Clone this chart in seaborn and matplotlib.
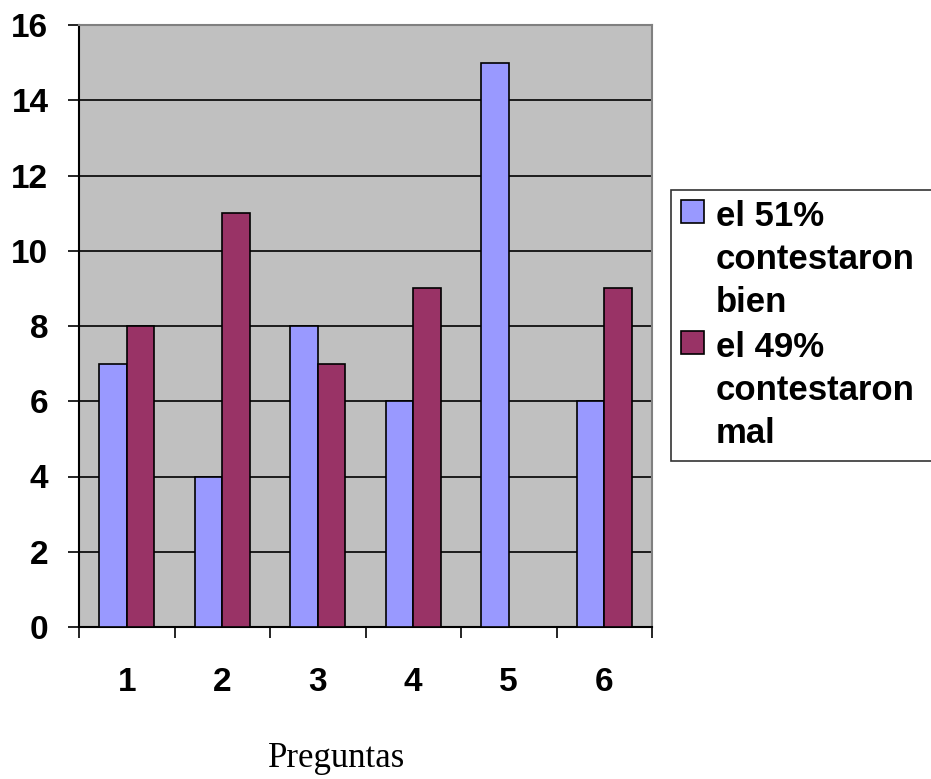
import matplotlib
matplotlib.use("Agg")
import matplotlib.pyplot as plt
import seaborn as sns
import pandas as pd

preguntas = ["1", "2", "3", "4", "5", "6"]
bien = [7, 4, 8, 6, 15, 6]
mal = [8, 11, 7, 9, 0, 9]
series_names = ["el 51%\ncontestaron\nbien", "el 49%\ncontestaron\nmal"]
colors = ["#9999FF", "#993366"]
yticks = [0, 2, 4, 6, 8, 10, 12, 14, 16]

df = pd.DataFrame({
    "Pregunta": preguntas * 2,
    "Valor": bien + mal,
    "Serie": [series_names[0]] * len(bien) + [series_names[1]] * len(mal),
})

sns.set_style("white")
plt.rcParams["font.family"] = ["Liberation Sans", "DejaVu Sans"]
plt.rcParams["text.color"] = "black"
plt.rcParams["axes.labelcolor"] = "black"
plt.rcParams["xtick.color"] = "black"
plt.rcParams["ytick.color"] = "black"

fig = plt.figure(figsize=(9.31, 7.79), dpi=100)
ax = fig.add_axes([79 / 931, 1 - 627 / 779, (652 - 79) / 931, (627 - 25) / 779])
ax.set_facecolor("#C0C0C0")

sns.barplot(data=df, x="Pregunta", y="Valor", hue="Serie", order=preguntas,
            hue_order=series_names, palette=colors, width=0.58,
            edgecolor="black", linewidth=1.2, saturation=1, ax=ax, zorder=3)

ax.set_xlim(-0.5, len(preguntas) - 0.5)
ax.set_ylim(0, 16)
ax.set_yticks(yticks)
ax.set_yticklabels([str(t) for t in yticks], fontsize=24, fontweight="bold")
for t in yticks[1:-1]:
    ax.axhline(t, color="black", linewidth=1.2, zorder=1)

ax.set_xticks(range(len(preguntas)))
ax.set_xticklabels(preguntas, fontsize=24, fontweight="bold")
ax.tick_params(axis="x", which="major", length=0, pad=29)
ax.set_xticks([i - 0.5 for i in range(len(preguntas) + 1)], minor=True)
ax.tick_params(axis="x", which="minor", length=8, width=1.2, direction="out", color="black", bottom=True)
ax.tick_params(axis="y", length=8, width=1.2, direction="out", color="black", pad=14, left=True)

for side in ["left", "bottom"]:
    ax.spines[side].set_color("black")
    ax.spines[side].set_linewidth(1.5)
for side in ["top", "right"]:
    ax.spines[side].set_color("#808080")
    ax.spines[side].set_linewidth(1.5)

ax.set_ylabel("")
ax.set_xlabel("Preguntas", fontsize=25, family=["Liberation Serif", "DejaVu Serif"])
ax.xaxis.set_label_coords(337 / 931, 1 - 767 / 779, transform=fig.transFigure)
ax.xaxis.label.set_va("baseline")

leg = ax.legend(loc="upper left", bbox_to_anchor=(671 / 931, 1 - 190 / 779, 290 / 931, 0),
                mode="expand",
                bbox_transform=fig.transFigure, frameon=True, fancybox=False,
                prop={"size": 25, "weight": "bold"}, handlelength=0.64, handleheight=0.64,
                handletextpad=0.35, borderpad=0.3, labelspacing=0.35, borderaxespad=0)
leg.get_frame().set_edgecolor("black")
leg.get_frame().set_linewidth(1.2)
for txt in leg.get_texts():
    txt.set_linespacing(1.38)
for col in leg._legend_handle_box.get_children():
    for line in col.get_children():
        line.align = "top"

fig.savefig("out.png", dpi=100)
